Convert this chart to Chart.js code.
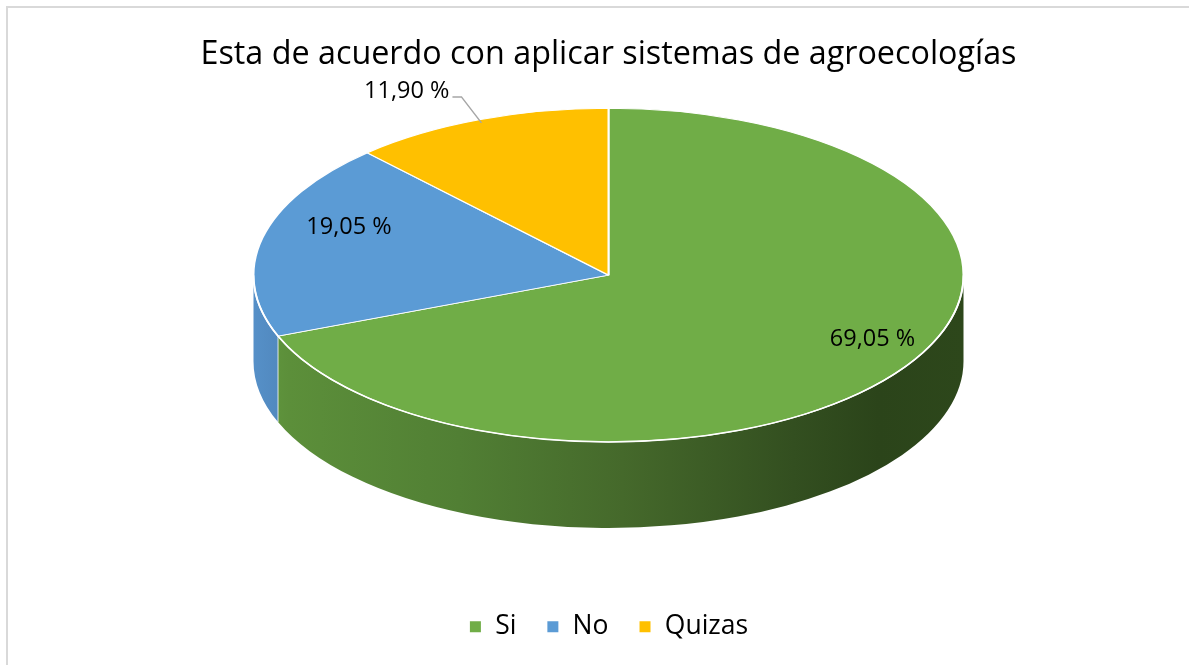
<!DOCTYPE html>
<html>
<head>
<meta charset="utf-8">
<title>Esta de acuerdo con aplicar sistemas de agroecologías</title>
<script src="https://cdn.jsdelivr.net/npm/chart.js@4.4.1/dist/chart.umd.min.js"></script>
<style>
  html, body { margin: 0; padding: 0; background: #fff; overflow: hidden; }
  #frame {
    position: absolute; left: 6px; top: 6px; width: 1300px; height: 800px;
    border: 2px solid #d9d9d9; pointer-events: none;
  }
  #chart { position: absolute; left: 0; top: 0; }
</style>
</head>
<body>
<div id="frame"></div>
<canvas id="chart" width="1189" height="665"></canvas>
<script>
// data
const categories = ['Si', 'No', 'Quizas'];
const percentages = [69.05, 19.05, 11.90];
const sliceColors = ['#70AD47', '#5B9BD5', '#FFC000'];
// side wall shading, left -> right
const wallStops = [
  ['#62993f', '#5c8f3a', '#517f34', '#45692b', '#334f20', '#2b441a', '#2d471b'],
  ['#5690c8', '#4f86bb', '#477aab', '#3d6b97', '#31577c', '#2a4b6b', '#2b4c6c'],
  ['#f2b600', '#e5ac00', '#cc9900', '#b38600', '#8c6900', '#7a5c00', '#7c5d00']
];
const wallStopPos = [0, 0.05, 0.29, 0.52, 0.76, 0.88, 1];

const tilt = 0.47;   // vertical squash of the top face
const depth = 86;    // wall height in px
const labelLift = 20;
const font = 'Open Sans';

const fmt = v => v.toFixed(2).replace('.', ',') + ' %';

const pie3d = {
  id: 'pie3d',
  beforeDatasetsDraw(chart) {
    const ctx = chart.ctx;
    const arcs = chart.getDatasetMeta(0).data;
    if (!arcs.length) return;
    const { x: cx, y: cy, outerRadius: r } = arcs[0];
    const ry = r * tilt;

    // front walls (canvas angles 0..PI face the viewer)
    arcs.forEach((arc, i) => {
      const a0 = Math.max(arc.startAngle, 0);
      const a1 = Math.min(arc.endAngle, Math.PI);
      if (a1 <= a0) return;
      const g = ctx.createLinearGradient(cx - r, 0, cx + r, 0);
      wallStops[i].forEach((c, k) => g.addColorStop(wallStopPos[k], c));
      ctx.beginPath();
      ctx.ellipse(cx, cy, r, ry, 0, a0, a1);
      ctx.ellipse(cx, cy + depth, r, ry, 0, a1, a0, true);
      ctx.closePath();
      ctx.fillStyle = g;
      ctx.fill();
      // seam between walls
      if (a0 > 0) {
        ctx.beginPath();
        ctx.moveTo(cx + r * Math.cos(a0), cy + ry * Math.sin(a0));
        ctx.lineTo(cx + r * Math.cos(a0), cy + depth + ry * Math.sin(a0));
        ctx.strokeStyle = 'rgba(255,255,255,0.8)';
        ctx.lineWidth = 1;
        ctx.stroke();
      }
    });

    // squash the top face
    ctx.save();
    ctx.translate(cx, cy);
    ctx.scale(1, tilt);
    ctx.translate(-cx, -cy);
  },
  afterDatasetsDraw(chart) {
    const ctx = chart.ctx;
    ctx.restore();
    const arcs = chart.getDatasetMeta(0).data;
    if (!arcs.length) return;
    const { x: cx, y: cy, outerRadius: r } = arcs[0];
    const ry = r * tilt;

    // light rim along the front edge
    ctx.beginPath();
    ctx.ellipse(cx, cy, r, ry, 0, 0, Math.PI);
    ctx.strokeStyle = '#ffffff';
    ctx.lineWidth = 1.6;
    ctx.stroke();

    // data labels
    ctx.save();
    ctx.font = '23.5px "' + font + '"';
    ctx.fillStyle = '#000';
    ctx.textBaseline = 'middle';
    arcs.forEach((arc, i) => {
      const mid = (arc.startAngle + arc.endAngle) / 2;
      const text = fmt(percentages[i]);
      if (percentages[i] >= 15) {
        const f = mid > 0 && mid < Math.PI ? 0.9 : 0.75;
        ctx.textAlign = 'center';
        ctx.fillText(text,
          cx + Math.cos(mid) * r * f,
          cy + Math.sin(mid) * ry * f - labelLift);
      } else {
        // outside label with leader line
        const px = cx + Math.cos(mid) * r * 0.98;
        const py = cy + Math.sin(mid) * ry * 0.98;
        const ex = px - 20, ey = py - 26;
        ctx.beginPath();
        ctx.moveTo(px, py);
        ctx.lineTo(ex, ey);
        ctx.lineTo(ex - 9, ey);
        ctx.strokeStyle = '#a6a6a6';
        ctx.lineWidth = 1.5;
        ctx.stroke();
        ctx.textAlign = 'right';
        ctx.fillText(text, ex - 12, ey - 6);
      }
    });
    ctx.restore();
  }
};

new Chart(document.getElementById('chart'), {
  type: 'pie',
  data: {
    labels: categories,
    datasets: [{
      data: percentages,
      backgroundColor: sliceColors,
      borderColor: '#ffffff',
      borderWidth: 2,
      radius: 355,
      clip: false
    }]
  },
  options: {
    responsive: false,
    animation: false,
    layout: { padding: { left: 28, right: 0, top: 0, bottom: 15 } },
    plugins: {
      title: {
        display: true,
        text: 'Esta de acuerdo con aplicar sistemas de agroecologías',
        color: '#000',
        font: { family: font, size: 32.3, weight: 'normal' },
        padding: { top: 35.6, bottom: 6.8 }
      },
      legend: {
        position: 'bottom',
        title: { display: true, text: ' ', padding: 50 },
        labels: {
          color: '#000',
          font: { family: font, size: 26.5 },
          boxWidth: 13,
          boxHeight: 13,
          padding: 30
        }
      },
      tooltip: { enabled: false }
    }
  },
  plugins: [pie3d]
});
</script>
</body>
</html>
